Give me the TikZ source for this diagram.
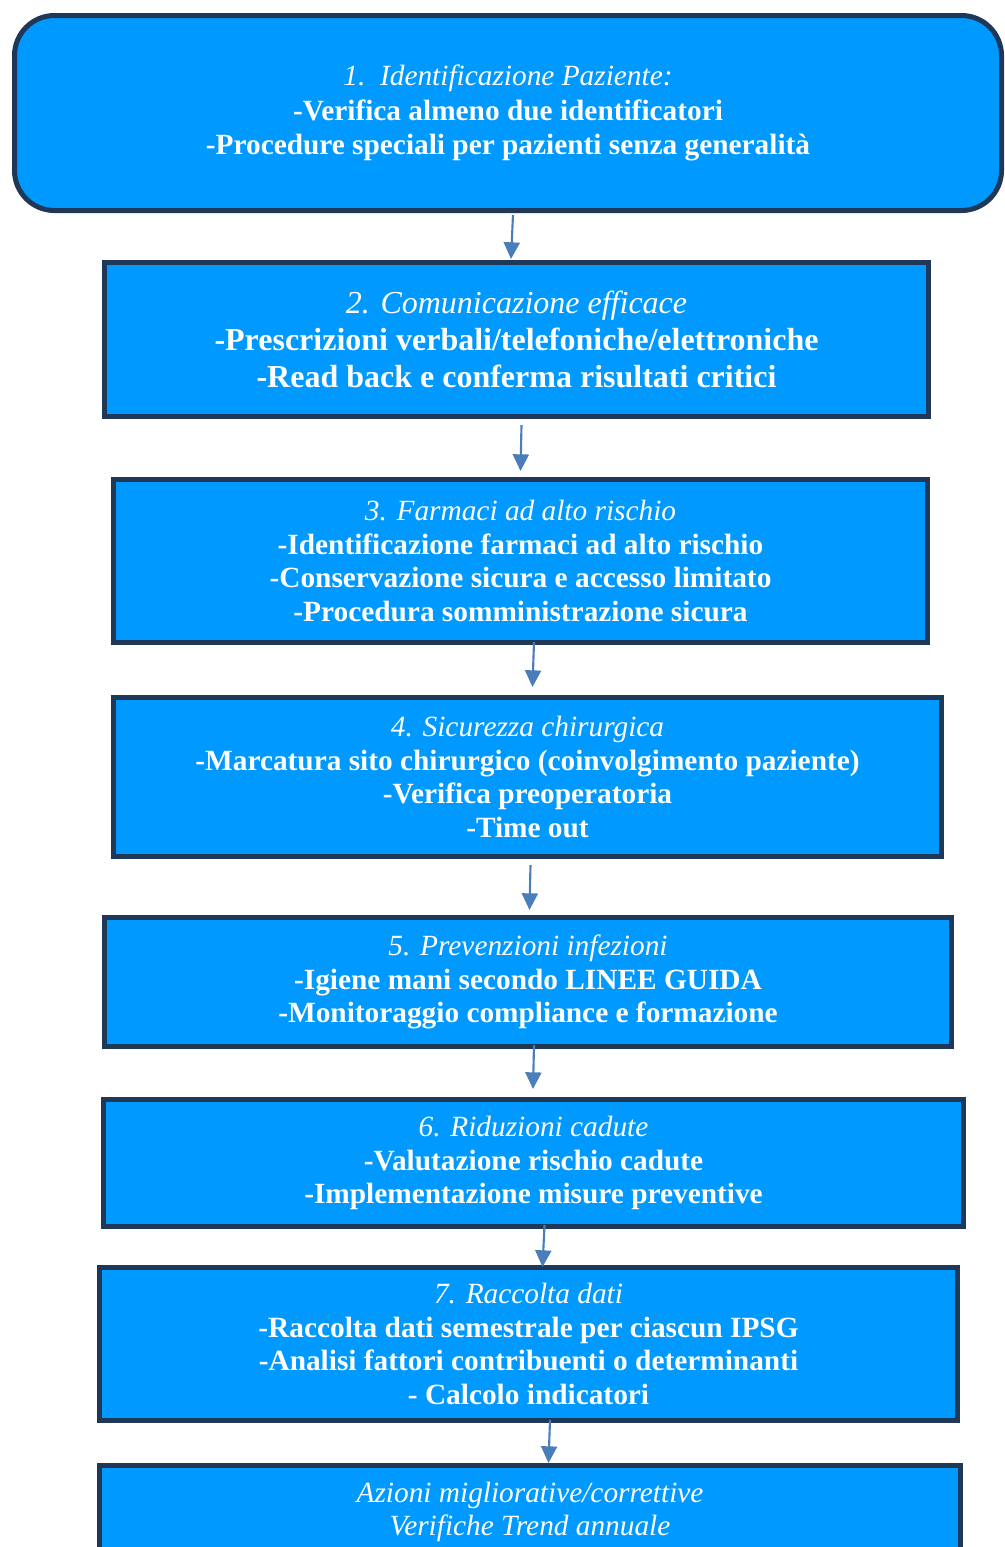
\documentclass[tikz,border=0pt]{standalone}
\usepackage{fontspec}
\setmainfont{Liberation Serif}
\usetikzlibrary{arrows.meta}
\definecolor{boxfill}{RGB}{0,153,255}
\definecolor{boxline}{RGB}{31,56,88}
\definecolor{flowcolor}{RGB}{74,126,187}
\newcommand{\boxtitle}[1]{{\mdseries\itshape #1}}

\begin{document}
\begin{tikzpicture}[
				x=0.75pt, y=-0.75pt,
				box/.style={
					rectangle,
					draw=boxline,
					line width=3.75pt,
					fill=boxfill,
					text=white,
					align=center,
					inner sep=0pt,
					font=\fontsize{22}{25.3}\selectfont\bfseries
				},
				flow/.style={
					-{Triangle[length=12.5pt,width=12pt]},
					line width=1.6pt,
					draw=flowcolor
				}
				]
				\useasboundingbox (0,0) rectangle (1005,1547);

				\node[box, rounded corners=30pt, minimum width=740.25pt, minimum height=146.25pt,
					font=\fontsize{22}{25.8}\selectfont\bfseries] (b1) at (508,113)
					{\boxtitle{1.\ \ Identificazione Paziente:}\\-Verifica almeno due identificatori\\-Procedure speciali per pazienti senza generalità};
				\node[box, minimum width=618pt, minimum height=115.5pt,
					font=\fontsize{24}{27.75}\selectfont\bfseries] (b2) at (516.5,339.5)
					{\boxtitle{2. Comunicazione efficace}\\-Prescrizioni verbali/telefoniche/elettroniche\\-Read back e conferma risultati critici};
				\node[box, minimum width=610.5pt, minimum height=122.25pt] (b3) at (520.5,561)
					{\boxtitle{3. Farmaci ad alto rischio}\\-Identificazione farmaci ad alto rischio\\-Conservazione sicura e accesso limitato\\-Procedura somministrazione sicura};
				\node[box, minimum width=621pt, minimum height=119.25pt] (b4) at (527.5,777)
					{\boxtitle{4. Sicurezza chirurgica}\\-Marcatura sito chirurgico (coinvolgimento paziente)\\-Verifica preoperatoria\\-Time out};
				\node[box, minimum width=635.25pt, minimum height=96.75pt] (b5) at (528,982)
					{\boxtitle{5. Prevenzioni infezioni}\\-Igiene mani secondo LINEE GUIDA\\-Monitoraggio compliance e formazione};
				\node[box, minimum width=645pt, minimum height=95.25pt] (b6) at (533.5,1163)
					{\boxtitle{6. Riduzioni cadute}\\-Valutazione rischio cadute\\-Implementazione misure preventive};
				\node[box, minimum width=643.5pt, minimum height=114.75pt] (b7) at (528.5,1344)
					{\boxtitle{7. Raccolta dati}\\-Raccolta dati semestrale per ciascun IPSG\\-Analisi fattori contribuenti o determinanti\\- Calcolo indicatori};
				\node[box, minimum width=645.75pt, minimum height=69.75pt] (b8) at (530,1512)
					{\boxtitle{Azioni migliorative/correttive}\\\boxtitle{Verifiche Trend annuale}};

				\draw[flow] ([shift={(5,2)}]b1.south) -- ([shift={(-5.5,-1)}]b2.north);
				\draw[flow] ([shift={(5,6)}]b2.south) -- ([shift={(0,-6)}]b3.north);
				\draw[flow] ([shift={(13.5,-3)}]b3.south) -- ([shift={(5,-8)}]b4.north);
				\draw[flow] ([shift={(3,6)}]b4.south) -- ([shift={(1.5,-5)}]b5.north);
				\draw[flow] ([shift={(6,-4)}]b5.south) -- ([shift={(-0.5,-8)}]b6.north);
				\draw[flow] ([shift={(11,-4)}]b6.south) -- ([shift={(14,2)}]b7.north);
				\draw[flow] ([shift={(21.5,-3)}]b7.south) -- ([shift={(18.5,0)}]b8.north);
			\end{tikzpicture}
\end{document}
